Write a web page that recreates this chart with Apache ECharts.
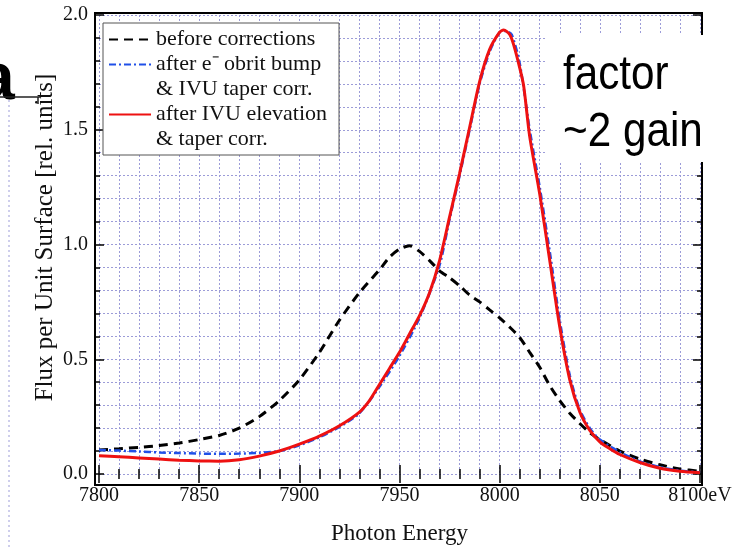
<!DOCTYPE html>
<html><head><meta charset="utf-8">
<script src="https://cdn.jsdelivr.net/npm/echarts@6/dist/echarts.min.js"></script>
<style>html,body{margin:0;padding:0;background:#fff}#c{width:748px;height:550px}</style>
</head><body><div id="c"></div>
<script>
// ---- data ----
const seriesNames = ['before corrections', 'after e\u207B obrit bump\n& IVU taper corr.', 'after IVU elevation\n& taper corr.'];

const energyBefore = [7800,7810,7820,7830,7840,7850,7860,7870,7880,7890,7900,7910,7920,7930,7940,7945,7950,7955,7960,7965,7970,7975,7980,7985,7990,7995,8000,8005,8010,8015,8020,8025,8030,8035,8040,8045,8050,8060,8070,8080,8090,8100];
const fluxBefore   = [0.105,0.110,0.116,0.124,0.135,0.150,0.168,0.200,0.250,0.320,0.410,0.530,0.670,0.790,0.890,0.945,0.980,0.995,0.970,0.930,0.885,0.855,0.820,0.780,0.750,0.715,0.680,0.640,0.595,0.530,0.465,0.385,0.320,0.265,0.220,0.180,0.150,0.100,0.065,0.040,0.022,0.012];

const energyOrbit = [7800,7810,7820,7830,7840,7850,7860,7870,7880,7890,7900,7910,7920,7930,7940,7950,7960,7970,7975,7980,7985,7990,7995,8000,8003,8006,8010,8015,8020,8025,8030,8035,8040,8045,8050,8060,8070,8080,8090,8100];
const fluxOrbit   = [0.105,0.102,0.098,0.094,0.091,0.089,0.088,0.089,0.092,0.100,0.125,0.160,0.205,0.265,0.380,0.515,0.680,0.910,1.110,1.300,1.500,1.700,1.840,1.925,1.930,1.915,1.790,1.500,1.250,0.970,0.670,0.430,0.280,0.200,0.150,0.095,0.055,0.030,0.015,0.007];

const energyElev = [7800,7810,7820,7830,7840,7850,7860,7870,7880,7890,7900,7910,7920,7930,7935,7940,7945,7950,7955,7960,7965,7970,7975,7980,7985,7990,7995,8000,8002,8005,8007,8010,8012,8015,8020,8025,8030,8035,8040,8045,8050,8055,8060,8070,8080,8090,8100];
const fluxElev   = [0.080,0.075,0.070,0.065,0.060,0.057,0.056,0.062,0.078,0.100,0.130,0.165,0.210,0.270,0.320,0.390,0.460,0.530,0.610,0.690,0.790,0.930,1.120,1.310,1.510,1.710,1.850,1.925,1.935,1.915,1.870,1.770,1.690,1.470,1.220,0.930,0.640,0.410,0.270,0.190,0.140,0.110,0.085,0.050,0.025,0.012,0.005];

const xRange = [7800, 8100];
const yRange = [0, 2];
const xLabelUnitValue = 8100;

// ---- chart ----
const serif = 'Liberation Serif, Times New Roman, serif';
const gridDot = {color: '#9c9cd8', type: [2, 2], width: 1};
const zip = (xs, ys) => xs.map((x, i) => [x, ys[i]]);

const chart = echarts.init(document.getElementById('c'), null, {renderer: 'canvas'});
const tickCommon = {
  axisLine: {show: false},
  axisTick: {show: true, inside: true, length: 9, lineStyle: {color: '#000', width: 1.5}},
  minorTick: {show: true, splitNumber: 5, length: 5, lineStyle: {color: '#000', width: 1.5}},
};
chart.setOption({
  animation: false,
  backgroundColor: '#fff',
  grid: {left: 99, right: 48, top: 15, bottom: 69},
  xAxis: [
    Object.assign({
      type: 'value', min: xRange[0], max: xRange[1], interval: 50, position: 'bottom', offset: 4,
      splitLine: {show: true, lineStyle: gridDot},
      minorSplitLine: {show: true, lineStyle: gridDot},
      axisLabel: {margin: 8, fontFamily: serif, fontSize: 20, color: '#111',
        formatter: v => v === xLabelUnitValue ? v + 'eV' : String(v)},
      name: 'Photon Energy', nameLocation: 'middle', nameGap: 44, nameMoveOverlap: false,
      nameTextStyle: {fontFamily: serif, fontSize: 23, color: '#111'}
    }, tickCommon),
    Object.assign({
      type: 'value', min: xRange[0], max: xRange[1], interval: 50, position: 'top', offset: 2,
      splitLine: {show: false}, axisLabel: {show: false}
    }, tickCommon)
  ],
  yAxis: [
    Object.assign({
      type: 'value', min: yRange[0], max: yRange[1], interval: 0.5, position: 'left', offset: 4,
      splitLine: {show: true, lineStyle: gridDot},
      minorSplitLine: {show: true, lineStyle: gridDot},
      axisLabel: {margin: 7, fontFamily: serif, fontSize: 20, color: '#111',
        formatter: v => v.toFixed(1)},
      name: 'Flux per Unit Surface [rel. units]', nameLocation: 'middle', nameGap: 37, nameMoveOverlap: false,
      nameTextStyle: {fontFamily: serif, fontSize: 25, color: '#111', padding: [0, 0, 0, 14]}
    }, tickCommon),
    Object.assign({
      type: 'value', min: yRange[0], max: yRange[1], interval: 0.5, position: 'right', offset: 2,
      splitLine: {show: false}, axisLabel: {show: false}
    }, tickCommon)
  ],
  legend: {
    orient: 'vertical', left: 103, top: 23, padding: [4, 12, 3, 5], itemGap: -25,
    itemWidth: 42, itemHeight: 14, selectedMode: false,
    backgroundColor: '#fff', borderColor: '#555', borderWidth: 1,
    itemStyle: {opacity: 0},
    // a leading empty line keeps each marker level with the first line of a two-line label
    formatter: n => n.indexOf('\n') >= 0 ? '\n' + n : n,
    textStyle: {fontFamily: serif, fontSize: 22, color: '#111', lineHeight: 25},
    data: seriesNames
  },
  series: [
    {name: seriesNames[0], type: 'line', symbol: 'none', smooth: 0.25, z: 3,
     data: zip(energyBefore, fluxBefore),
     lineStyle: {color: '#000', width: 3, type: [9, 6]}, itemStyle: {color: '#000'}},
    {name: seriesNames[1], type: 'line', symbol: 'none', smooth: 0.25, z: 4,
     data: zip(energyOrbit, fluxOrbit),
     lineStyle: {color: '#2050e8', width: 2.5, type: [7, 3, 2, 3]}, itemStyle: {color: '#2050e8'}},
    {name: seriesNames[2], type: 'line', symbol: 'none', smooth: 0.25, z: 5,
     data: zip(energyElev, fluxElev),
     lineStyle: {color: '#ee1111', width: 3}, itemStyle: {color: '#ee1111'}}
  ],
  graphic: [
    {type: 'rect', z: 50, silent: true, shape: {x: 95, y: 13, width: 607, height: 472},
     style: {fill: 'none', stroke: '#000', lineWidth: 2}},
    {type: 'rect', z: 60, silent: true, shape: {x: 545, y: 35, width: 203, height: 127},
     style: {fill: '#fff'}},
    {type: 'text', z: 61, silent: true, x: 563, y: 47, scaleX: 0.88,
     style: {text: 'factor\n~2 gain', fontFamily: 'Liberation Sans, Arial, sans-serif',
       fontSize: 48, lineHeight: 57, fill: '#000', verticalAlign: 'top'}},
    {type: 'text', z: 61, silent: true, x: -22, y: 48,
     style: {text: 'a', fontFamily: 'Liberation Sans, Arial, sans-serif', fontWeight: 'bold',
       fontSize: 66, fill: '#000', verticalAlign: 'top'}},
    {type: 'line', z: 61, silent: true, shape: {x1: 0, y1: 97, x2: 40, y2: 97}, style: {stroke: '#222', lineWidth: 1.5}},
    {type: 'line', z: 61, silent: true, shape: {x1: 38, y1: 97, x2: 38, y2: 104}, style: {stroke: '#222', lineWidth: 1.5}},
    {type: 'line', z: 61, silent: true, shape: {x1: 9, y1: 100, x2: 9, y2: 550}, style: {stroke: '#9c9cd8', lineWidth: 1, lineDash: [2, 3]}}
  ]
});
</script></body></html>
